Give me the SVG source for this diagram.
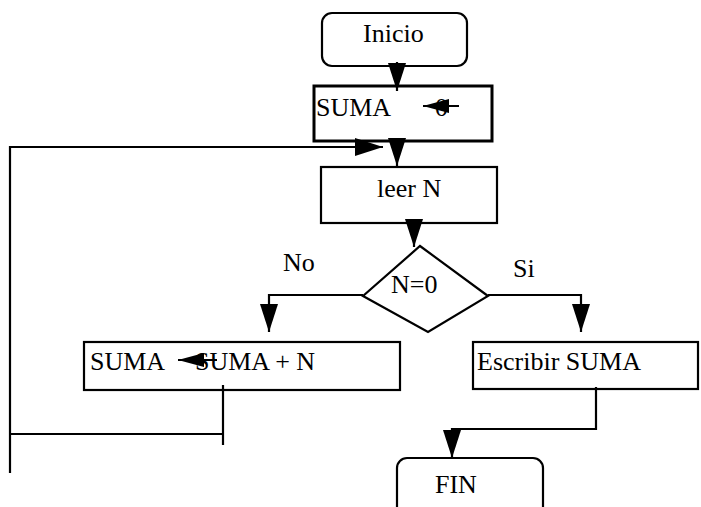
<svg xmlns="http://www.w3.org/2000/svg" width="701" height="507" viewBox="0 0 701 507">
<style>
.box{fill:#fff;stroke:#000;stroke-width:2.2}
.thick{stroke-width:3}
.ln{fill:none;stroke:#000;stroke-width:2.2}
.t{font-family:"Liberation Serif","Times New Roman",serif;font-size:26px;fill:#000}
</style>
<defs>
<marker id="ah" markerUnits="userSpaceOnUse" markerWidth="28" markerHeight="18" refX="28" refY="9" orient="auto">
<path d="M0,0 L28,9 L0,18 z" fill="#000"/>
</marker>
<marker id="as" markerUnits="userSpaceOnUse" markerWidth="26" markerHeight="14" refX="26" refY="7" orient="auto">
<path d="M0,0 L26,7 L0,14 z" fill="#000"/>
</marker>
</defs>
<g id="inicio"><rect class="box" x="322" y="13" width="145" height="53" rx="10"/><text class="t" x="363" y="42">Inicio</text></g>
<g id="suma0"><rect class="box thick" x="314" y="86" width="178" height="55"/><text class="t" x="316" y="116">SUMA<tspan x="435">0</tspan></text><path class="ln" d="M459,106 L423,106" marker-end="url(#as)"/></g>
<g id="leer"><rect class="box" x="321" y="167" width="176" height="56"/><text class="t" x="377" y="197">leer N</text></g>
<g id="decision"><polygon class="box" points="420,246 488,296 428,332 363,296"/><text class="t" x="391" y="293">N=0</text></g>
<g id="labels"><text class="t" x="283" y="271">No</text><text class="t" x="513" y="277">Si</text></g>
<g id="sumaN"><rect class="box" x="84" y="342" width="316" height="48"/><text class="t" x="90" y="370">SUMA<tspan x="195">SUMA + N</tspan></text><path class="ln" d="M217,360 L178,360" marker-end="url(#as)"/></g>
<g id="escribir"><rect class="box" x="473" y="342" width="225" height="47"/><text class="t" x="477" y="370">Escribir SUMA</text></g>
<g id="fin"><rect class="box" x="397" y="458" width="146" height="62" rx="10"/><text class="t" x="435" y="493">FIN</text></g>
<g id="connectors">
<path class="ln" d="M397,62 L397,91" marker-end="url(#ah)"/>
<path class="ln" d="M397,141 L397,166" marker-end="url(#ah)"/>
<path class="ln" d="M10,473 L10,147 L383,147" marker-end="url(#ah)"/>
<path class="ln" d="M414,223 L414,247" marker-end="url(#ah)"/>
<path class="ln" d="M363,295 L269,295 L269,332" marker-end="url(#ah)"/>
<path class="ln" d="M488,295 L581,295 L581,332" marker-end="url(#ah)"/>
<path class="ln" d="M223,385 L223,445"/>
<path class="ln" d="M10,434 L223,434"/>
<path class="ln" d="M596,387 L596,429 L452,429 L452,458" marker-end="url(#ah)"/>
</g>
</svg>
